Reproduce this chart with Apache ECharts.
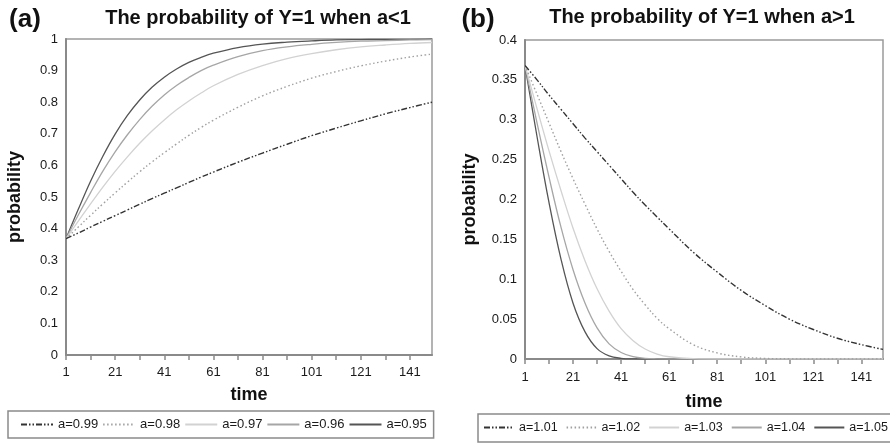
<!DOCTYPE html>
<html>
<head>
<meta charset="utf-8">
<script src="https://cdn.jsdelivr.net/npm/echarts@6/dist/echarts.min.js"></script>
<style>html,body{margin:0;padding:0;background:#fff;}#c{width:890px;height:443px;}</style>
</head>
<body>
<div id="c"></div>
<script>
// ---- data ----
var time = [1, 6, 11, 16, 21, 26, 31, 36, 41, 46, 51, 56, 61, 71, 81, 91, 101, 111, 121, 131, 141, 150];

var namesA = ['a=0.99', 'a=0.98', 'a=0.97', 'a=0.96', 'a=0.95'];
var p099 = [0.368, 0.386, 0.405, 0.423, 0.441, 0.459, 0.477, 0.495, 0.512, 0.529, 0.546, 0.563, 0.579, 0.610, 0.639, 0.667, 0.694, 0.718, 0.741, 0.763, 0.783, 0.800];
var p098 = [0.368, 0.405, 0.442, 0.478, 0.513, 0.547, 0.580, 0.611, 0.640, 0.668, 0.695, 0.720, 0.743, 0.784, 0.820, 0.850, 0.876, 0.897, 0.915, 0.930, 0.943, 0.952];
var p097 = [0.368, 0.424, 0.478, 0.531, 0.581, 0.627, 0.670, 0.709, 0.744, 0.776, 0.804, 0.829, 0.852, 0.888, 0.916, 0.938, 0.954, 0.966, 0.975, 0.981, 0.986, 0.989];
var p096 = [0.368, 0.443, 0.514, 0.582, 0.643, 0.697, 0.745, 0.787, 0.823, 0.853, 0.878, 0.900, 0.917, 0.944, 0.963, 0.975, 0.983, 0.989, 0.993, 0.995, 0.997, 0.998];
var p095 = [0.368, 0.461, 0.550, 0.629, 0.699, 0.758, 0.807, 0.847, 0.879, 0.905, 0.926, 0.942, 0.955, 0.973, 0.984, 0.990, 0.994, 0.997, 0.998, 0.999, 0.999, 1.000];

var namesB = ['a=1.01', 'a=1.02', 'a=1.03', 'a=1.04', 'a=1.05'];
var p101 = [0.368, 0.350, 0.331, 0.313, 0.295, 0.277, 0.260, 0.243, 0.226, 0.209, 0.193, 0.178, 0.163, 0.134, 0.109, 0.086, 0.067, 0.050, 0.037, 0.026, 0.018, 0.012];
var p102 = [0.368, 0.332, 0.296, 0.260, 0.226, 0.194, 0.163, 0.135, 0.110, 0.087, 0.068, 0.051, 0.038, 0.018, 0.0076, 0.0026, 0.0007, 0.0002, 0, 0, 0, 0];
var p103 = [0.368, 0.314, 0.261, 0.211, 0.164, 0.123, 0.088, 0.060, 0.038, 0.023, 0.0125, 0.0062, 0.0028, 0.0004, 0, 0, 0, 0, 0, 0, 0, 0];
var p104 = [0.368, 0.296, 0.228, 0.165, 0.112, 0.070, 0.039, 0.019, 0.0082, 0.0029, 0.0008, 0.0002, 0, 0, 0, 0, 0, 0, 0, 0, 0, 0];
var p105 = [0.368, 0.279, 0.196, 0.125, 0.070, 0.034, 0.013, 0.004, 0.0009, 0.0001, 0, 0, 0, 0, 0, 0, 0, 0, 0, 0, 0, 0];

var xLabelTicks = [1, 21, 41, 61, 81, 101, 121, 141];
var xMinorTicks = [1, 11, 21, 31, 41, 51, 61, 71, 81, 91, 101, 111, 121, 131, 141];

var titleA = 'The probability of Y=1 when a<1';
var titleB = 'The probability of Y=1 when a>1';

// ---- styles ----
var FONT = '"Liberation Sans", Arial, sans-serif';
var styles = [
  { color: '#333333', width: 1.4, type: [6, 2, 1.5, 2, 1.5, 2] },
  { color: '#a0a0a0', width: 1.4, type: [1.5, 2.5] },
  { color: '#d2d2d2', width: 1.3, type: 'solid' },
  { color: '#a6a6a6', width: 1.3, type: 'solid' },
  { color: '#555555', width: 1.3, type: 'solid' }
];

function pairs(vals) { return time.map(function (t, i) { return [t, vals[i]]; }); }

function mkSeries(names, arrs, idx) {
  return names.map(function (n, i) {
    return {
      name: n, type: 'line', xAxisIndex: idx, yAxisIndex: idx,
      data: pairs(arrs[i]), showSymbol: false, symbol: 'none', smooth: 0.4,
      lineStyle: { color: styles[i].color, width: styles[i].width, type: styles[i].type },
      itemStyle: { color: styles[i].color },
      animation: false, z: 10 - i
    };
  });
}

function mkX(idx, gap, margin) {
  return {
    type: 'value', gridIndex: idx, min: 1, max: 150,
    name: 'time', nameLocation: 'middle', nameGap: gap,
    nameTextStyle: { fontFamily: FONT, fontSize: 18, fontWeight: 'bold', color: '#111' },
    axisLine: { show: true, onZero: false, lineStyle: { color: '#8a8a8a', width: 2 } },
    axisTick: { show: true, customValues: xMinorTicks, length: 5, inside: false, lineStyle: { color: '#8a8a8a', width: 1.5 } },
    axisLabel: { customValues: xLabelTicks, fontFamily: FONT, fontSize: 13, color: '#1a1a1a', margin: margin },
    splitLine: { show: false }
  };
}

function mkY(idx, max, interval, gap) {
  return {
    type: 'value', gridIndex: idx, min: 0, max: max, interval: interval,
    name: 'probability', nameLocation: 'middle', nameGap: gap, nameRotate: 90,
    nameTextStyle: { fontFamily: FONT, fontSize: 18, fontWeight: 'bold', color: '#111' },
    axisLine: { show: true, lineStyle: { color: '#8a8a8a', width: 2 } },
    axisTick: { show: false },
    axisLabel: { fontFamily: FONT, fontSize: 13, color: '#1a1a1a', margin: 8 },
    splitLine: { show: false }
  };
}

var legendText = { fontFamily: FONT, fontSize: 13, color: '#1a1a1a' };
var legendItem = { opacity: 0, borderWidth: 0 };

var option = {
  backgroundColor: '#ffffff',
  animation: false,
  grid: [
    { left: 66, top: 39, width: 366, height: 316, show: true, borderColor: '#9a9a9a', borderWidth: 1.5, backgroundColor: 'transparent' },
    { left: 525, top: 40, width: 358, height: 319, show: true, borderColor: '#9a9a9a', borderWidth: 1.5, backgroundColor: 'transparent' }
  ],
  xAxis: [mkX(0, 31, 11), mkX(1, 34, 12)],
  yAxis: [mkY(0, 1, 0.1, 42), mkY(1, 0.4, 0.05, 46)],
  legend: [
    {
      data: namesA, left: 8, top: 411, orient: 'horizontal',
      itemWidth: 32, itemHeight: 14, itemGap: 4,
      padding: [7, 7, 7, 12], borderColor: '#8a8a8a', borderWidth: 1.5,
      textStyle: legendText, itemStyle: legendItem, selectedMode: false
    },
    {
      data: namesB, left: 478, top: 414, orient: 'horizontal', width: 440,
      itemWidth: 30, itemHeight: 14, itemGap: 8,
      padding: [7, 10, 7, 5], borderWidth: 0,
      textStyle: { fontFamily: FONT, fontSize: 12.5, color: '#1a1a1a' }, itemStyle: legendItem, selectedMode: false
    }
  ],
  graphic: [
    { type: 'text', x: 25, y: 20, style: { text: '(a)', font: 'bold 26px ' + FONT, fill: '#111', textAlign: 'center', textVerticalAlign: 'middle' } },
    { type: 'text', x: 258, y: 18, style: { text: titleA, font: 'bold 20px ' + FONT, fill: '#111', textAlign: 'center', textVerticalAlign: 'middle' } },
    { type: 'text', x: 478, y: 20, style: { text: '(b)', font: 'bold 26px ' + FONT, fill: '#111', textAlign: 'center', textVerticalAlign: 'middle' } },
    { type: 'text', x: 702, y: 17, style: { text: titleB, font: 'bold 20px ' + FONT, fill: '#111', textAlign: 'center', textVerticalAlign: 'middle' } },
    { type: 'rect', shape: { x: 478, y: 414, width: 430, height: 28 }, style: { fill: 'none', stroke: '#8a8a8a', lineWidth: 1.5 }, z: 1 }
  ],
  series: mkSeries(namesA, [p099, p098, p097, p096, p095], 0)
    .concat(mkSeries(namesB, [p101, p102, p103, p104, p105], 1))
};

var chart = echarts.init(document.getElementById('c'), null, { renderer: 'canvas' });
chart.setOption(option);
</script>
</body>
</html>
